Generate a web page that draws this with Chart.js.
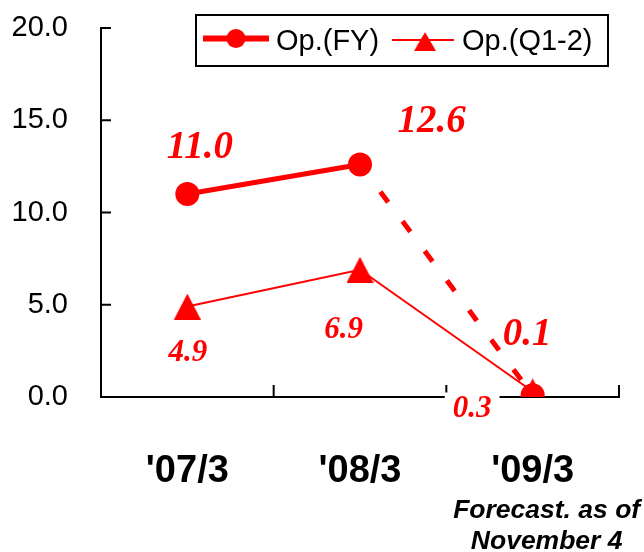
<!DOCTYPE html>
<html><head><meta charset="utf-8">
<script src="https://cdn.jsdelivr.net/npm/chart.js@4/dist/chart.umd.min.js"></script>
<style>html,body{margin:0;padding:0;background:#fff;}#wrap{width:644px;height:552px;position:relative;}</style>
</head><body><div id="wrap"><canvas id="c" width="644" height="552"></canvas></div>
<script>
// ---- data ----
const categories = ["'07/3", "'08/3", "'09/3"];
const opFY = [11.0, 12.6, 0.1];
const opQ12 = [4.9, 6.9, 0.3];
const yTicks = [0, 5, 10, 15, 20];
const seriesNames = ['Op.(FY)', 'Op.(Q1-2)'];
const forecastNote = ['Forecast. as of', 'November 4'];

// ---- styles ----
const RED = '#ff0000';
const SANS = '"Liberation Sans", Arial, sans-serif';
const SERIF = '"Liberation Serif", "Times New Roman", serif';

function makeTriangle(w, h, color) {
  const cv = document.createElement('canvas');
  cv.width = w; cv.height = h;
  const g = cv.getContext('2d');
  g.fillStyle = color;
  g.beginPath(); g.moveTo(w / 2, 0); g.lineTo(w, h); g.lineTo(0, h); g.closePath(); g.fill();
  return cv;
}
const triPoint = makeTriangle(27, 26, RED);

// label offsets relative to each point (style, not data)
const labelStyle = [
  { font: 'bold italic 39px ' + SERIF, bg: null, off: [[12.5, -46], [71.5, -42.5], [-5.5, -60]] },
  { font: 'bold italic 31px ' + SERIF, bg: '#fff', off: [[0.5, 46], [-16.5, 60], [-60.5, 18]] }
];

const axesPlugin = {
  id: 'axesDraw',
  beforeDatasetsDraw(chart) {
    const { ctx, chartArea: a, scales: { x, y } } = chart;
    ctx.save();
    ctx.strokeStyle = '#000'; ctx.lineWidth = 2; ctx.lineCap = 'butt';
    ctx.beginPath();
    ctx.moveTo(a.left, y.getPixelForValue(yTicks[yTicks.length - 1]) - 1);
    ctx.lineTo(a.left, a.bottom);
    ctx.lineTo(a.right, a.bottom);
    ctx.stroke();
    ctx.beginPath();
    yTicks.forEach(v => { const py = y.getPixelForValue(v); ctx.moveTo(a.left, py); ctx.lineTo(a.left + 10, py); });
    for (let i = 0; i <= categories.length; i++) {
      const px = x.getPixelForValue(i - 0.5);
      ctx.moveTo(px, a.bottom + 1); ctx.lineTo(px, a.bottom - 12);
    }
    ctx.stroke();
    ctx.restore();
  },
  afterDatasetsDraw(chart) {
    const { ctx } = chart;
    ctx.save();
    ctx.textAlign = 'center'; ctx.textBaseline = 'middle';
    chart.data.datasets.forEach((ds, di) => {
      const meta = chart.getDatasetMeta(di);
      const st = labelStyle[di];
      ctx.font = st.font;
      meta.data.forEach((pt, i) => {
        const tx = pt.x + st.off[i][0], ty = pt.y + st.off[i][1];
        const txt = ds.data[i].toFixed(1);
        if (st.bg) {
          const w = ctx.measureText(txt).width;
          ctx.fillStyle = st.bg;
          ctx.fillRect(tx - w / 2 - 8, ty - 17, w + 16, 36);
        }
        ctx.fillStyle = RED;
        ctx.fillText(txt, tx, ty);
      });
    });
    ctx.restore();
  },
  afterDraw(chart) {
    const { ctx } = chart;
    ctx.save();
    // legend
    ctx.fillStyle = '#fff'; ctx.fillRect(196, 15, 412, 51);
    ctx.strokeStyle = '#000'; ctx.lineWidth = 2; ctx.strokeRect(196, 15, 412, 51);
    ctx.strokeStyle = RED; ctx.fillStyle = RED;
    ctx.lineWidth = 6; ctx.beginPath(); ctx.moveTo(203, 38.5); ctx.lineTo(269, 38.5); ctx.stroke();
    ctx.beginPath(); ctx.arc(236, 38.5, 9.5, 0, Math.PI * 2); ctx.fill();
    ctx.lineWidth = 2; ctx.beginPath(); ctx.moveTo(392, 40); ctx.lineTo(454, 40); ctx.stroke();
    ctx.drawImage(triPoint, 414, 32, 22, 19);
    ctx.fillStyle = '#000'; ctx.font = '29px ' + SANS; ctx.textBaseline = 'middle'; ctx.textAlign = 'left';
    ctx.fillText(chart.data.datasets[0].label, 276, 42);
    ctx.fillText(chart.data.datasets[1].label, 462, 42);
    // forecast note under last category
    const xs = chart.scales.x;
    const cx = xs.getPixelForValue(categories.length - 1) + 14;
    ctx.font = 'bold italic 26.5px ' + SANS; ctx.textAlign = 'center';
    ctx.fillText(forecastNote[0], cx, 511);
    ctx.fillText(forecastNote[1], cx, 542);
    ctx.restore();
  }
};

new Chart(document.getElementById('c'), {
  type: 'line',
  data: {
    labels: categories,
    datasets: [
      {
        label: seriesNames[0], data: opFY,
        borderColor: RED, backgroundColor: RED, borderWidth: 5,
        pointStyle: 'circle', pointRadius: 12, pointHoverRadius: 12, pointBorderWidth: 0,
        pointBackgroundColor: RED, tension: 0,
        segment: {
          borderDash: ctx => ctx.p1DataIndex === categories.length - 1 ? [13, 24] : undefined,
          borderDashOffset: ctx => ctx.p1DataIndex === categories.length - 1 ? 3 : 0
        }
      },
      {
        label: seriesNames[1], data: opQ12,
        borderColor: RED, backgroundColor: RED, borderWidth: 2,
        pointStyle: triPoint, pointRadius: 13, pointBorderWidth: 0, tension: 0
      }
    ]
  },
  options: {
    responsive: false, animation: false, devicePixelRatio: 1,
    layout: { padding: { top: 28, right: 25, left: 0, bottom: 0 } },
    plugins: { legend: { display: false }, tooltip: { enabled: false } },
    scales: {
      x: {
        type: 'category', offset: true,
        grid: { display: false, drawTicks: false, offset: true }, border: { display: false },
        ticks: { color: '#000', font: { family: SANS, size: 38, weight: 'bold' }, padding: 52, maxRotation: 0 },
        afterFit: s => { s.height = 155; }
      },
      y: {
        min: 0, max: 20,
        grid: { display: false, drawTicks: false }, border: { display: false },
        afterBuildTicks: s => { s.ticks = yTicks.map(v => ({ value: v })); },
        ticks: { color: '#000', font: { family: SANS, size: 29 }, padding: 33, callback: v => Number(v).toFixed(1) },
        afterFit: s => { s.width = 101; s.paddingTop = 0; s.paddingBottom = 0; }
      }
    }
  },
  plugins: [axesPlugin]
});
</script></body></html>
